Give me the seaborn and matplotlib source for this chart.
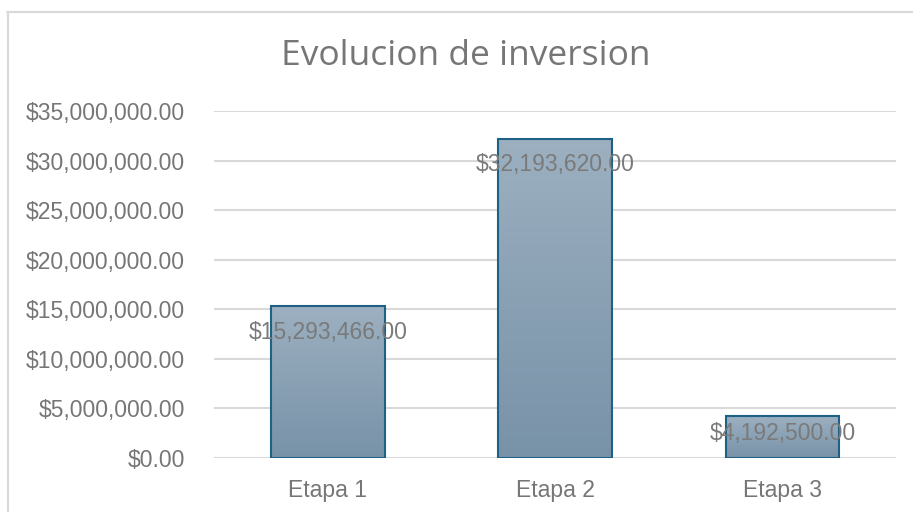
import numpy as np
import pandas as pd
import matplotlib
matplotlib.use("Agg")
import matplotlib.pyplot as plt
import seaborn as sns
from matplotlib.colors import LinearSegmentedColormap
from matplotlib.ticker import FuncFormatter, MultipleLocator
from matplotlib.lines import Line2D

categories = ["Etapa 1", "Etapa 2", "Etapa 3"]
values = [15293466.00, 32193620.00, 4192500.00]
title = "Evolucion de inversion"

df = pd.DataFrame({"etapa": categories, "monto": values})

sns.set_theme(style="white")
plt.rcParams['font.family'] = ['Liberation Sans', 'DejaVu Sans']

W, H = 913, 512
fig = plt.figure(figsize=(W / 100, H / 100), dpi=100)
ax = fig.add_axes([214 / W, 1 - 458 / H, (896 - 214) / W, (458 - 111) / H])

sns.barplot(data=df, x="etapa", y="monto", ax=ax, width=0.5,
            color="#8aa2b6", edgecolor="#1f6185", linewidth=1.5, zorder=3)

ax.set_ylim(0, 35_000_000)
ax.set_xlim(-0.5, 2.5)
ax.yaxis.set_major_locator(MultipleLocator(5_000_000))
ax.yaxis.set_major_formatter(FuncFormatter(lambda v, p: f"${v:,.2f}"))
ax.grid(axis="y", color="#d9d9d9", linewidth=1.5, zorder=0)
ax.set_axisbelow(True)
for s in ax.spines.values():
    s.set_visible(False)
ax.tick_params(axis="y", length=0, pad=21, labelsize=16.5, labelcolor="#767676")
ax.tick_params(axis="x", length=0, pad=15, labelsize=16.5, labelcolor="#767676")
ax.set_xlabel("")
ax.set_ylabel("")

# gradient fill clipped to each bar
cmap = LinearSegmentedColormap.from_list("g", ["#7892a8", "#9cb0c0"])
grad = np.linspace(0, 1, 256).reshape(-1, 1)
for patch in ax.patches:
    x0, y0 = patch.get_x(), patch.get_y()
    w, h = patch.get_width(), patch.get_height()
    im = ax.imshow(grad, cmap=cmap, aspect="auto", origin="lower",
                   extent=[x0, x0 + w, y0, y0 + h], zorder=3.5)
    im.set_clip_path(patch)
    patch.set_zorder(4)
    patch.set_facecolor("none")

ax.set_xlim(-0.5, 2.5)
ax.set_ylim(0, 35_000_000)

# data labels (inside end)
px_per_unit = ((458 - 111)) / 35_000_000
for i, v in enumerate(values):
    bar_px = v * px_per_unit
    off = min(26, bar_px * 0.4)
    ax.annotate(f"${v:,.2f}", xy=(i, v), xytext=(0, -off), textcoords="offset pixels",
                ha="center", va="center", fontsize=16.5, color="#7a7a7a", zorder=5)

fig.text(466 / W, 1 - 56 / H, title, ha="center", va="center",
         fontsize=25.5, color="#767676", family=["Open Sans", "DejaVu Sans"])

# chart border
fig.add_artist(Line2D([7 / W, 1], [1 - 11.5 / H, 1 - 11.5 / H], color="#d9d9d9", lw=1.5, transform=fig.transFigure))
fig.add_artist(Line2D([7.5 / W, 7.5 / W], [0, 1 - 11.5 / H], color="#d9d9d9", lw=1.5, transform=fig.transFigure))

fig.savefig("out.png", dpi=100)
